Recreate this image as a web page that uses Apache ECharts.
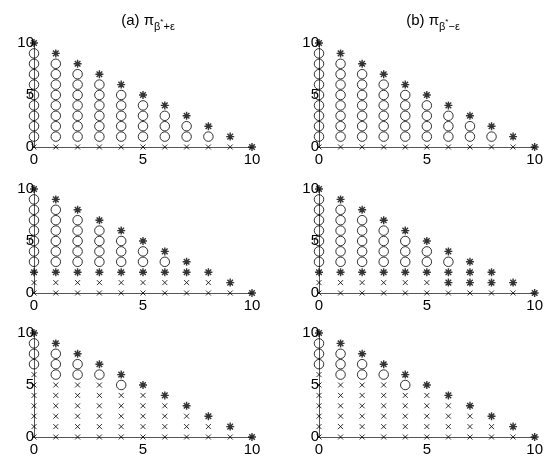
<!DOCTYPE html>
<html>
<head>
<meta charset="utf-8">
<script src="https://cdn.jsdelivr.net/npm/echarts@6/dist/echarts.min.js"></script>
<style>
  html, body { margin: 0; padding: 0; background: #fff; }
  #chart { width: 546px; height: 459px; }
</style>
</head>
<body>
<div id="chart"></div>
<script>
// x positions of the columns
const xValues = [0, 1, 2, 3, 4, 5, 6, 7, 8, 9, 10];

// one string per column, read bottom (y=0) to top: x = cross, o = circle, * = star
const panelA1 = ['xooooooooo*', 'xoooooooo*', 'xooooooo*', 'xoooooo*', 'xooooo*', 'xoooo*', 'xooo*', 'xoo*', 'xo*', 'x*', '*'];
const panelB1 = ['xooooooooo*', 'xoooooooo*', 'xooooooo*', 'xoooooo*', 'xooooo*', 'xoooo*', 'xooo*', 'xoo*', 'xo*', 'x*', '*'];
const panelA2 = ['xx*ooooooo*', 'xx*oooooo*', 'xx*ooooo*', 'xx*oooo*', 'xx*ooo*', 'xx*oo*', 'xx*o*', 'xx**', 'xx*', 'x*', '*'];
const panelB2 = ['xx*ooooooo*', 'xx*oooooo*', 'xx*ooooo*', 'xx*oooo*', 'xx*ooo*', 'xx*oo*', 'x**o*', 'x***', 'x**', 'x*', '*'];
const panelA3 = ['xxxxxxxooo*', 'xxxxxxooo*', 'xxxxxxoo*', 'xxxxxxo*', 'xxxxxo*', 'xxxxx*', 'xxxx*', 'xxx*', 'xx*', 'x*', '*'];
const panelB3 = ['xxxxxxxooo*', 'xxxxxxooo*', 'xxxxxxoo*', 'xxxxxxo*', 'xxxxxo*', 'xxxxx*', 'xxxx*', 'xxx*', 'xx*', 'x*', '*'];

const panels = [panelA1, panelB1, panelA2, panelB2, panelA3, panelB3];

// axis range and tick step
const axisMin = 0;
const axisMax = 10;
const tickStep = 5;

const FONT = 'Liberation Sans, Arial, sans-serif';
const AXIS_COLOR = '#555';

const STAR = 'path://M5,0L5,10M0,5L10,5M1.5,1.5L8.5,8.5M8.5,1.5L1.5,8.5';
const CROSS = 'path://M0,0L10,10M10,0L0,10';

const gridLefts = [34, 319];
const gridTops = [43, 189, 333];

const myChart = echarts.init(document.getElementById('chart'));

const grids = [], xAxes = [], yAxes = [], series = [];

panels.forEach((cols, p) => {
  const row = Math.floor(p / 2), col = p % 2;
  grids.push({ left: gridLefts[col], top: gridTops[row], width: 218, height: 104 });

  const axisBase = {
    min: axisMin, max: axisMax, interval: tickStep,
    gridIndex: p,
    axisLine: { lineStyle: { color: AXIS_COLOR, width: 1 } },
    axisTick: { show: false },
    splitLine: { show: false }
  };
  xAxes.push(Object.assign({}, axisBase, {
    type: 'value',
    axisLabel: { color: '#000', fontSize: 15, fontFamily: FONT, margin: 5 }
  }));
  yAxes.push(Object.assign({}, axisBase, {
    type: 'value',
    axisLabel: { color: '#000', fontSize: 15, fontFamily: FONT, margin: 0 }
  }));

  const crosses = [], circles = [], stars = [];
  cols.forEach((s, i) => {
    for (let j = 0; j < s.length; j++) {
      const pt = [xValues[i], j];
      if (s[j] === 'x') crosses.push(pt);
      else if (s[j] === 'o') circles.push(pt);
      else stars.push(pt);
    }
  });

  const common = { type: 'scatter', xAxisIndex: p, yAxisIndex: p, silent: true, animation: false };
  series.push(Object.assign({}, common, {
    data: crosses, symbol: CROSS, symbolSize: [5, 5],
    itemStyle: { color: 'none', borderColor: '#000', borderWidth: 1 }
  }));
  series.push(Object.assign({}, common, {
    data: circles, symbol: 'circle', symbolSize: 9.5,
    itemStyle: { color: 'none', borderColor: '#000', borderWidth: 1 }
  }));
  series.push(Object.assign({}, common, {
    data: stars, symbol: STAR, symbolSize: [8, 8],
    itemStyle: { color: 'none', borderColor: '#000', borderWidth: 1.4 }
  }));
});

// titles with sub/superscripts
const titleRich = {
  m: { fontSize: 15, fontWeight: 'normal', fontFamily: FONT, color: '#000', padding: [0, 0, 6, 0] },
  s: { fontSize: 11, fontWeight: 'normal', fontFamily: FONT, color: '#000', padding: [7, 0, 0, 0] },
  u: { fontSize: 8, fontWeight: 'normal', fontFamily: FONT, color: '#000', padding: [0, 0, 4, 0] }
};

myChart.setOption({
  backgroundColor: '#fff',
  animation: false,
  title: [
    { text: '{m|(a) π}{s|β}{u|*}{s|+ε}', left: 143, top: 8, textAlign: 'center',
      textStyle: { fontWeight: 'normal', rich: titleRich } },
    { text: '{m|(b) π}{s|β}{u|*}{s|−ε}', left: 428, top: 8, textAlign: 'center',
      textStyle: { fontWeight: 'normal', rich: titleRich } }
  ],
  grid: grids,
  xAxis: xAxes,
  yAxis: yAxes,
  series: series
});
</script>
</body>
</html>
